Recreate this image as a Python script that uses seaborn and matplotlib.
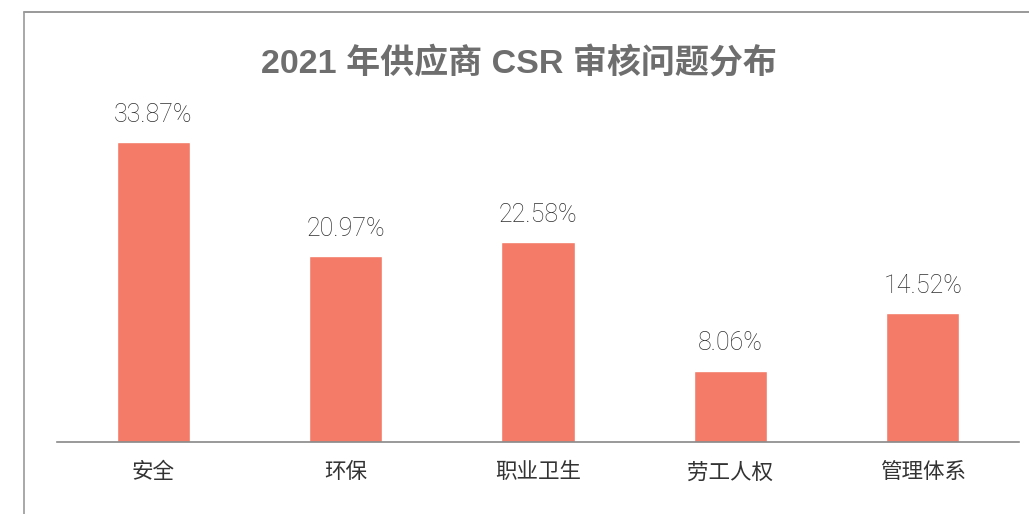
import matplotlib
matplotlib.use("Agg")
import matplotlib.pyplot as plt
import seaborn as sns
import pandas as pd
from matplotlib.lines import Line2D

categories = ["安全", "环保", "职业卫生", "劳工人权", "管理体系"]
values = [33.87, 20.97, 22.58, 8.06, 14.52]
title = "2021 年供应商 CSR 审核问题分布"

sns.set_theme(style="white")
plt.rcParams['font.family'] = ['Noto Sans CJK SC', 'DejaVu Sans']

df = pd.DataFrame({"cat": categories, "val": values})

fig = plt.figure(figsize=(10.29, 5.14), dpi=100)
ax = fig.add_axes([57/1029, 1-442/514, (1019-57)/1029, 342/514])

sns.barplot(data=df, x="cat", y="val", color="#F47B67", width=0.38,
            saturation=1, ax=ax)

ax.set_ylim(0, 342/8.85)
ax.set_xlim(-0.5, len(categories)-0.5)
for cont in ax.containers:
    ax.bar_label(cont, labels=[f"{v:.2f}%" for v in values], padding=11,
                 fontsize=18, color="#2E2E2E",
                 family=['Roboto', 'Noto Sans CJK SC'], fontweight='light')

ax.set_xlabel("")
ax.set_ylabel("")
ax.set_yticks([])
ax.tick_params(axis="x", length=0, labelsize=15.5, labelcolor="#333333", pad=14)
for s in ["top", "right", "left"]:
    ax.spines[s].set_visible(False)
ax.spines["bottom"].set_color("#888888")
ax.spines["bottom"].set_linewidth(1.2)

fig.text(519/1029, 1-64/514, title, ha="center", va="center",
         fontsize=24.5, fontweight="bold", color="#6E6E6E",
         family=['Liberation Sans', 'Noto Sans CJK SC'])

# outer frame (top and left)
fig.add_artist(Line2D([24/1029, 1], [1-12/514, 1-12/514], transform=fig.transFigure,
                      color="#888888", linewidth=1.2))
fig.add_artist(Line2D([24/1029, 24/1029], [0, 1-12/514], transform=fig.transFigure,
                      color="#999999", linewidth=1.2))

fig.savefig("out.png", dpi=100)
